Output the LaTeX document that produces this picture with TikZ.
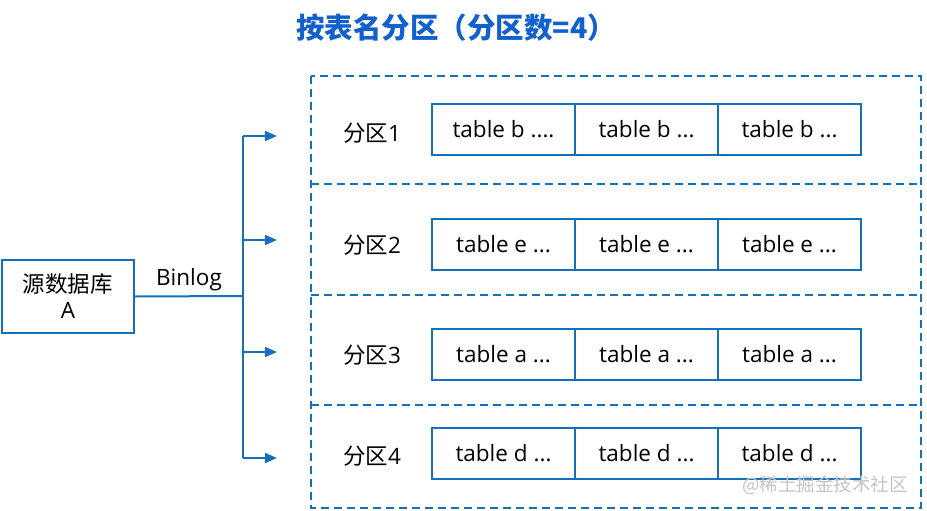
\documentclass[tikz,border=0pt]{standalone}
\usepackage{fontspec}
\setmainfont{Open Sans}
\newfontfamily\cjk{Noto Sans CJK SC}
\usepackage{tikz}
\usetikzlibrary{arrows.meta}
\definecolor{lineblue}{RGB}{20,112,186}
\definecolor{titleblue}{RGB}{18,96,204}
\definecolor{markgray}{RGB}{196,196,196}

\begin{document}
\begin{tikzpicture}[x=1pt, y=-1pt, every node/.style={font=\fontsize{22.5}{26}\selectfont, inner sep=0pt},
	cellbox/.style={draw=lineblue, line width=2pt, minimum width=143pt, minimum height=51pt},
	feed/.style={draw=lineblue, line width=2pt},
	>={Triangle[length=12pt, width=10pt]}]
	\useasboundingbox (0,0) rectangle (927,511);
	% title
	\node[font=\cjk\fontsize{28.5}{32}\selectfont\bfseries, text=titleblue] (title) at (456,28) {按表名分区（分区数=4）};
	% source
	\node[draw=lineblue, line width=2pt, minimum width=132pt, minimum height=73pt, align=center] (src) at (68,296.5) {{\cjk 源数据库}\\A};
	\coordinate (jn) at (243,296);
	\coordinate (b1) at (243,136);
	\coordinate (b2) at (243,240);
	\coordinate (b3) at (243,352);
	\coordinate (b4) at (243,458);
	\coordinate (t1) at (277,136);
	\coordinate (t2) at (277,240);
	\coordinate (t3) at (277,352);
	\coordinate (t4) at (277,458);
	\draw[feed] (src.east) -- node[above=4pt] (binlog) {Binlog} (jn);
	\draw[feed] (b1) -- (b4);
	\draw[feed, ->] (b1) -- (t1);
	\draw[feed, ->] (b2) -- (t2);
	\draw[feed, ->] (b3) -- (t3);
	\draw[feed, ->] (b4) -- (t4);
	% partitions
	\draw[lineblue, line width=2pt, dash pattern=on 8pt off 5pt] (311,76) rectangle (921,508);
	\draw[lineblue, line width=2pt, dash pattern=on 8pt off 5pt] (311,184) -- (921,184);
	\draw[lineblue, line width=2pt, dash pattern=on 8pt off 5pt] (311,295) -- (921,295);
	\draw[lineblue, line width=2pt, dash pattern=on 8pt off 5pt] (311,405) -- (921,405);
	\node (p1) at (372,133) {{\cjk 分区}1};
	\node (p2) at (372,245) {{\cjk 分区}2};
	\node (p3) at (372,355) {{\cjk 分区}3};
	\node (p4) at (372,456) {{\cjk 分区}4};
	\node[cellbox] (c11) at (503.5,129.5) {table b ....};
	\node[cellbox] (c12) at (646.5,129.5) {table b ...};
	\node[cellbox] (c13) at (789.5,129.5) {table b ...};
	\node[cellbox] (c21) at (503.5,244) {table e ...};
	\node[cellbox] (c22) at (646.5,244) {table e ...};
	\node[cellbox] (c23) at (789.5,244) {table e ...};
	\node[cellbox] (c31) at (503.5,354) {table a ...};
	\node[cellbox] (c32) at (646.5,354) {table a ...};
	\node[cellbox] (c33) at (789.5,354) {table a ...};
	\node[cellbox] (c41) at (503.5,453.5) {table d ...};
	\node[cellbox] (c42) at (646.5,453.5) {table d ...};
	\node[cellbox] (c43) at (789.5,453.5) {table d ...};
	% watermark
	\node[font=\cjk\fontsize{18.5}{20}\selectfont, text=markgray] (mark) at (825,485) {@稀土掘金技术社区};
\end{tikzpicture}
\end{document}
